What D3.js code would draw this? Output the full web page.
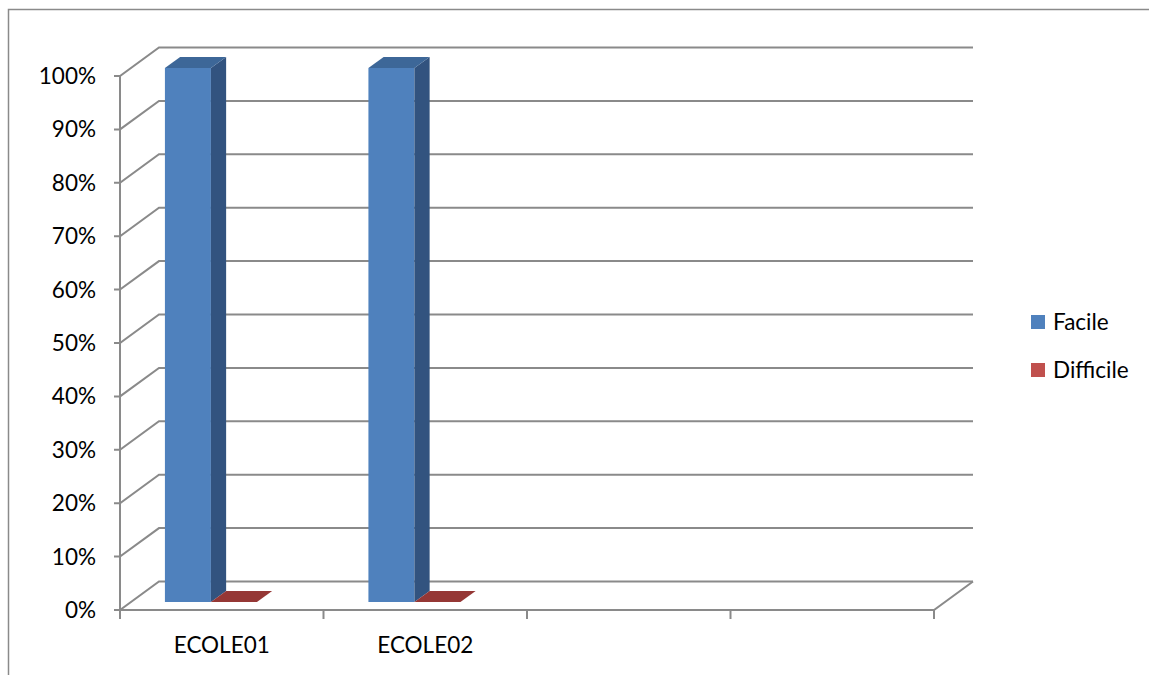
<!DOCTYPE html>
<html><head><meta charset="utf-8">
<script src="https://cdn.jsdelivr.net/npm/d3@7"></script>
<style>html,body{margin:0;padding:0;background:#fff;}svg{display:block;}</style>
</head><body>
<svg id="c" width="1149" height="675"></svg>
<script>
const categories = ["ECOLE01", "ECOLE02", "", ""];
const seriesNames = ["Facile", "Difficile"];
const facile = [1.0, 1.0];
const difficile = [0.0, 0.0];
const yTicks = [0, 0.1, 0.2, 0.3, 0.4, 0.5, 0.6, 0.7, 0.8, 0.9, 1.0];

const frontColors = ["#4F81BD", "#C0504D"];
const sideColors = ["#32537F", "#7E3331"];
const topColors = ["#3D6798", "#953735"];

const svg = d3.select("#c");
const font = "Lato, 'Open Sans', sans-serif";
const gridColor = "#8a8a8a";
const fs = 22.5;

// outer border
svg.append("path").attr("d", "M8.5,680 L8.5,9.5 L1160,9.5")
  .attr("fill", "none").attr("stroke", gridColor).attr("stroke-width", 1.5);

const x0 = d3.scaleBand().domain(d3.range(categories.length)).range([120, 934]);
const x1 = d3.scaleBand().domain(seriesNames).range([34, 126]);
const y = d3.scaleLinear().domain([0, 1]).range([610, 76]);
const DX = 39, DY = -28.5;       // full depth vector
const f0 = 0.28, f1 = 0.67;      // bar depth range

const g = svg.append("g");
yTicks.forEach(t => {
  const yf = y(t);
  g.append("path")
    .attr("d", `M${x0.range()[0] - 6},${yf} L${x0.range()[0]},${yf} L${x0.range()[0] + DX},${yf + DY} L${x0.range()[1] + DX},${yf + DY}`)
    .attr("fill", "none").attr("stroke", gridColor).attr("stroke-width", 2);
});
g.append("line").attr("x1", 120).attr("x2", 120).attr("y1", y(1)).attr("y2", y(0))
  .attr("stroke", gridColor).attr("stroke-width", 2);
g.append("path")
  .attr("d", `M120,${y(0)} L934,${y(0)} L${934 + DX},${y(0) + DY}`)
  .attr("fill", "none").attr("stroke", gridColor).attr("stroke-width", 2);
x0.domain().concat([categories.length]).forEach(i => {
  const xx = i < categories.length ? x0(i) : x0.range()[1];
  g.append("line").attr("x1", xx).attr("x2", xx).attr("y1", y(0)).attr("y2", y(0) + 9)
    .attr("stroke", gridColor).attr("stroke-width", 2);
});

yTicks.forEach(t => {
  svg.append("text").attr("x", 96).attr("y", y(t) + 8)
    .attr("text-anchor", "end").attr("font-family", font).attr("font-size", fs)
    .attr("fill", "#000").text(d3.format(".0%")(t));
});
categories.forEach((c, i) => {
  if (!c) return;
  svg.append("text").attr("x", x0(i) + x0.bandwidth() / 2).attr("y", 653)
    .attr("text-anchor", "middle").attr("font-family", font).attr("font-size", fs)
    .attr("fill", "#000").text(c);
});

const seriesData = [facile, difficile];
const bars = [];
seriesData[0].forEach((_, i) => {
  seriesNames.forEach((s, k) => bars.push({ i, k, s, v: seriesData[k][i] }));
});
bars.forEach(b => {
  const xl = x0(b.i) + x1(b.s) + DX * f0;
  const xr = xl + x1.bandwidth();
  const yb = y(0) + DY * f0;
  const yt = y(b.v) + DY * f0;
  const ddx = DX * (f1 - f0), ddy = DY * (f1 - f0);
  svg.append("path").attr("d", `M${xl},${yb} L${xr},${yb} L${xr},${yt} L${xl},${yt} Z`)
    .attr("fill", frontColors[b.k]);
  svg.append("path").attr("d", `M${xr},${yb} L${xr + ddx},${yb + ddy} L${xr + ddx},${yt + ddy} L${xr},${yt} Z`)
    .attr("fill", sideColors[b.k]);
  svg.append("path").attr("d", `M${xl},${yt} L${xr},${yt} L${xr + ddx},${yt + ddy} L${xl + ddx},${yt + ddy} Z`)
    .attr("fill", topColors[b.k]);
});

seriesNames.forEach((s, k) => {
  const ly = 315 + k * 48;
  svg.append("rect").attr("x", 1031).attr("y", ly).attr("width", 14).attr("height", 14)
    .attr("fill", frontColors[k]);
  svg.append("text").attr("x", 1053).attr("y", ly + 15).attr("font-family", font)
    .attr("font-size", fs).attr("fill", "#000").text(s);
});
</script>
</body></html>
